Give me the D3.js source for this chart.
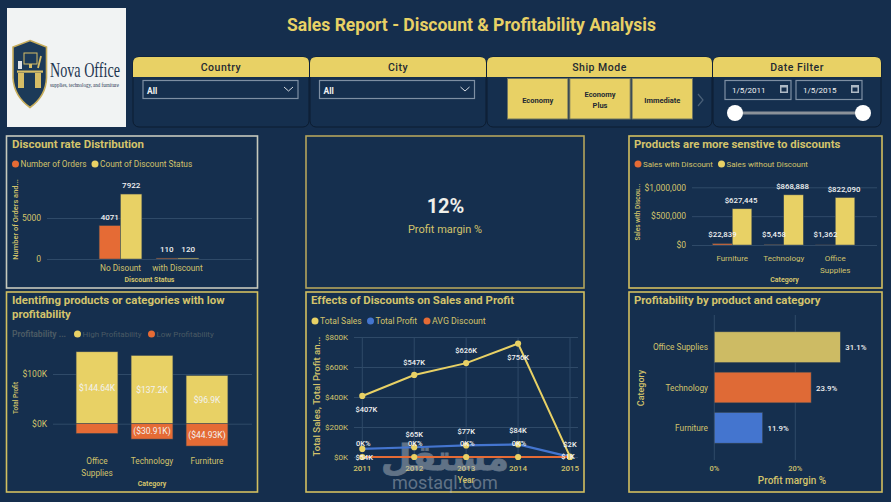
<!DOCTYPE html>
<html>
<head>
<meta charset="utf-8">
<script src="https://cdnjs.cloudflare.com/ajax/libs/d3/7.8.5/d3.min.js"></script>
<style>
html, body { margin: 0; padding: 0; background: #152e4d; overflow: hidden; }
svg { display: block; }
text { font-family: Roboto, "Noto Sans", sans-serif; }
</style>
</head>
<body>
<svg id="chart" width="891" height="502"></svg>
<script>
// chart values
var discountStatus = ["No Disount", "with Discount"];
var ordersCount = [4071, 110];
var discountCount = [7922, 120];

var profitCats = ["Office Supplies", "Technology", "Furniture"];
var highProfit = [144.64, 137.2, 96.9];
var lowProfit = [-19.5, -30.91, -44.93];

var years = [2011, 2012, 2013, 2014, 2015];
var totalSales = [407, 547, 626, 756, 2];
var totalProfit = [54, 65, 77, 84, 1];
var avgDiscount = [0, 0, 0, 0, 0];
var discountLabels = ["0K%", "0K%", "0K%", "0K%"];

var sensCats = ["Furniture", "Technology", "Office Supplies"];
var salesWith = [22839, 5458, 1362];
var salesWithout = [627445, 868888, 822090];

var marginCats = ["Office Supplies", "Technology", "Furniture"];
var marginVals = [31.1, 23.9, 11.9];

var shipModes = ["Economy", "Economy Plus", "Immediate"];

var YELLOW = "#e8d165", ORANGE = "#e56b35", BLUE = "#4475cf";
var AXIS = "#d3c36b", GRID = "#2f4a68", WHITE = "#f2f2f2", BG = "#152e4d";

var svg = d3.select("#chart");
svg.append("rect").attr("width", 891).attr("height", 502).attr("fill", BG);

function label(g, x, y, txt, size, color, anchor, weight) {
  return g.append("text").attr("x", x).attr("y", y).text(txt)
    .attr("font-size", size).attr("fill", color)
    .attr("text-anchor", anchor || "start")
    .attr("font-weight", weight || 400);
}

function panel(x, y, w, h, stroke) {
  svg.append("rect").attr("x", x).attr("y", y).attr("width", w).attr("height", h)
    .attr("fill", "#152f4e").attr("stroke", stroke || "#d2bf60").attr("stroke-width", 1.6);
}

function legend(items, y) {
  items.forEach(function(d) {
    svg.append("circle").attr("cx", d[0]).attr("cy", y).attr("r", 3.5).attr("fill", d[2]);
    label(svg, d[0] + 5, y + 3, d[1], d[3] || 8, d[4] || AXIS);
  });
}

// y axis with grid lines running across the plot
function yAxis(scale, ticks, fmt, x, x2, size) {
  var g = svg.append("g").attr("transform", "translate(" + x + ",0)")
    .call(d3.axisLeft(scale).tickValues(ticks).tickFormat(fmt).tickSize(-(x2 - x)).tickPadding(6));
  g.select(".domain").remove();
  g.selectAll("line").attr("stroke", GRID).attr("stroke-width", 1);
  g.selectAll("text").attr("fill", AXIS).attr("font-size", size || 8.5);
  return g;
}

function vTitle(x, y, txt, size, weight) {
  svg.append("text").attr("transform", "translate(" + x + "," + y + ") rotate(-90)")
    .attr("text-anchor", "middle").attr("font-size", size).attr("fill", AXIS)
    .attr("font-weight", weight || 400).text(txt);
}

// category tick labels, wrapped on the space when asked
function catLabels(names, xOf, y, wrap, size) {
  names.forEach(function(n) {
    var parts = wrap && n === wrap ? n.split(" ") : [n];
    parts.forEach(function(p, i) {
      label(svg, xOf(n), y + i * 12, p, size || 8, AXIS, "middle");
    });
  });
}

function barRects(data, color) {
  svg.append("g").selectAll("rect").data(data).enter().append("rect")
    .attr("x", function(d) { return d.x; })
    .attr("y", function(d) { return d.y; })
    .attr("width", function(d) { return d.w; })
    .attr("height", function(d) { return d.h; })
    .attr("fill", color).attr("stroke", "#3d4a55").attr("stroke-width", 0.5);
}

// ---- header
label(svg, 471.5, 31, "Sales Report - Discount & Profitability Analysis", 17.5, YELLOW, "middle", 700);

// logo
var logo = svg.append("g");
logo.append("rect").attr("x", 7).attr("y", 8).attr("width", 119).attr("height", 119).attr("fill", "#f1f3f3");
logo.append("path").attr("d", "M30 40.5 L46.5 47 L46.5 78 Q46 96 30 107.5 Q14 96 13 78 L13 47 Z")
  .attr("fill", "#1c3a58").attr("stroke", "#c7ad5b").attr("stroke-width", 1.6);
logo.append("rect").attr("x", 24).attr("y", 53).attr("width", 13).attr("height", 11).attr("fill", "#1c3a58").attr("stroke", "#d6bd66").attr("stroke-width", 1);
logo.append("rect").attr("x", 29).attr("y", 64).attr("width", 3).attr("height", 4).attr("fill", "#d6bd66");
logo.append("rect").attr("x", 17).attr("y", 70.5).attr("width", 26).attr("height", 2.2).attr("fill", "#d6bd66");
logo.append("rect").attr("x", 18).attr("y", 73).attr("width", 6).attr("height", 15).attr("fill", "#d6bd66");
logo.append("rect").attr("x", 35).attr("y", 73).attr("width", 6).attr("height", 15).attr("fill", "#d6bd66");
logo.append("rect").attr("x", 18).attr("y", 61).attr("width", 4).attr("height", 8).attr("fill", "#dfe3e6");
logo.append("path").attr("d", "M38 68 L41 56").attr("stroke", "#d6bd66").attr("stroke-width", 1.8);
logo.append("text").attr("x", 50).attr("y", 77).attr("font-size", 21).attr("fill", "#1d3550")
  .style("font-family", "'Liberation Serif', serif").attr("textLength", 70).attr("lengthAdjust", "spacingAndGlyphs").text("Nova Office");
logo.append("text").attr("x", 50).attr("y", 87).attr("font-size", 6.5).attr("fill", "#1d3550")
  .style("font-family", "'Liberation Serif', serif").attr("textLength", 69).attr("lengthAdjust", "spacingAndGlyphs").text("supplies, technology, and furniture");

// slicers
function slicer(x, w, title) {
  svg.append("rect").attr("x", x).attr("y", 57).attr("width", w).attr("height", 70).attr("rx", 6)
    .attr("fill", "#152f4e").attr("stroke", "#0c1c30").attr("stroke-width", 1);
  svg.append("path").attr("d", "M" + x + " 77 V63 Q" + x + " 57 " + (x + 6) + " 57 H" + (x + w - 6) + " Q" + (x + w) + " 57 " + (x + w) + " 63 V77 Z")
    .attr("fill", YELLOW);
  label(svg, x + w / 2, 71, title, 10.5, "#1f2a33", "middle", 500).attr("letter-spacing", 0.5);
}
function dropdown(x, w) {
  svg.append("rect").attr("x", x).attr("y", 80.5).attr("width", w).attr("height", 18)
    .attr("fill", "none").attr("stroke", "#7e8fa3").attr("stroke-width", 1.2);
  label(svg, x + 4, 93.5, "All", 8.5, WHITE, "start", 700);
  svg.append("path").attr("d", "M" + (x + w - 14) + " 87 l4.5 4 l4.5 -4").attr("fill", "none").attr("stroke", "#d8dde3").attr("stroke-width", 1);
}
slicer(133, 176, "Country");
dropdown(143, 155);
slicer(310, 176, "City");
dropdown(319.5, 155);
slicer(487, 225, "Ship Mode");
slicer(713, 168, "Date Filter");

var shipX = d3.scaleBand().domain(shipModes).range([507.5, 692.5]).paddingInner(0.03);
shipModes.forEach(function(m) {
  svg.append("rect").attr("x", shipX(m)).attr("y", 78.5).attr("width", shipX.bandwidth()).attr("height", 40.5)
    .attr("fill", YELLOW).attr("stroke", "#6f7460").attr("stroke-width", 1);
  var parts = m.split(" ");
  parts.forEach(function(p, i) {
    label(svg, shipX(m) + shipX.bandwidth() / 2, 102.5 - (parts.length - 1) * 5.5 + i * 11, p, 7.5, "#1f2a33", "middle", 700);
  });
});
svg.append("path").attr("d", "M698 94 l5 6 l-5 6").attr("fill", "none").attr("stroke", "#4a6078").attr("stroke-width", 1.2);

["1/5/2011", "1/5/2015"].forEach(function(t, i) {
  var x = 725 + i * 71;
  svg.append("rect").attr("x", x).attr("y", 80.5).attr("width", 66).attr("height", 19)
    .attr("fill", "none").attr("stroke", "#7e8fa3").attr("stroke-width", 1.2);
  label(svg, x + 7, 93, t, 8, WHITE);
  svg.append("rect").attr("x", x + 55).attr("y", 85).attr("width", 8).attr("height", 8).attr("fill", "#aeb9c5");
  svg.append("rect").attr("x", x + 56.5).attr("y", 87.5).attr("width", 5).attr("height", 4).attr("fill", BG);
});
svg.append("line").attr("x1", 735).attr("x2", 863).attr("y1", 113).attr("y2", 113).attr("stroke", "#8b9299").attr("stroke-width", 3);
[735, 863].forEach(function(x) {
  svg.append("circle").attr("cx", x).attr("cy", 113).attr("r", 8).attr("fill", "#ffffff");
});

// panels
panel(6.5, 136, 251, 152, "#c6c9bd");
panel(306, 136, 278, 152, "#b3a45c");
panel(629, 136, 253, 152);
panel(6.5, 292, 251, 200);
panel(306, 292, 278, 200);
panel(629, 292, 253, 200);

// ---- Discount rate Distribution
label(svg, 12, 148, "Discount rate Distribution", 11.5, AXIS, "start", 700);
legend([[15.5, "Number of Orders", ORANGE, 8.3], [95, "Count of Discount Status", YELLOW, 8.3]], 164);
var y1 = d3.scaleLinear().domain([0, 5000]).range([259, 218]);
yAxis(y1, [0, 5000], String, 47, 252);
var x1 = d3.scaleBand().domain(discountStatus).range([92, 206]).paddingInner(0.25).paddingOuter(0.125);
var bw1 = x1.bandwidth() / 2;
barRects(discountStatus.map(function(c, i) {
  return { x: x1(c), y: y1(ordersCount[i]), w: bw1, h: y1(0) - y1(ordersCount[i]) };
}), ORANGE);
barRects(discountStatus.map(function(c, i) {
  return { x: x1(c) + bw1, y: y1(discountCount[i]), w: bw1, h: y1(0) - y1(discountCount[i]) };
}), YELLOW);
discountStatus.forEach(function(c, i) {
  label(svg, x1(c) + bw1 / 2, y1(ordersCount[i]) - 6, ordersCount[i], 8, WHITE, "middle", 500);
  label(svg, x1(c) + bw1 * 1.5, y1(discountCount[i]) - 6, discountCount[i], 8, WHITE, "middle", 500);
});
catLabels(discountStatus, function(n) { return x1(n) + x1.bandwidth() / 2; }, 271, null, 8.3);
label(svg, 149.5, 282, "Discount Status", 7, AXIS, "middle", 700);
vTitle(18, 219.5, "Number of Orders and...", 7.5, 500);

// ---- Profit margin card
label(svg, 445.5, 213, "12%", 20, "#f0f0ea", "middle", 700);
label(svg, 445, 233, "Profit margin %", 11, AXIS, "middle", 400);

// ---- Low profitability
label(svg, 12, 304, "Identifing products or categories with low", 11.4, AXIS, "start", 700);
label(svg, 12, 318, "profitability", 11.4, AXIS, "start", 700);
label(svg, 12, 337, "Profitability ...", 8.5, "#4a5a64", "start", 700);
legend([[77.5, "High Profitability", YELLOW, 8, "#4a5a64"], [151.5, "Low Profitability", ORANGE, 8, "#4a5a64"]], 334);
var y4 = d3.scaleLinear().domain([0, 100]).range([423.7, 374]);
yAxis(y4, [0, 100], function(d) { return "$" + d + "K"; }, 53, 252);
var x4 = d3.scaleBand().domain(profitCats).range([69.5, 234.5]).paddingInner(0.24).paddingOuter(0.12);
barRects(profitCats.map(function(c, i) {
  return { x: x4(c), y: y4(highProfit[i]), w: x4.bandwidth(), h: y4(0) - y4(highProfit[i]) };
}), YELLOW);
barRects(profitCats.map(function(c, i) {
  return { x: x4(c), y: y4(0), w: x4.bandwidth(), h: y4(lowProfit[i]) - y4(0) };
}), ORANGE);
profitCats.forEach(function(c, i) {
  var cx = x4(c) + x4.bandwidth() / 2;
  label(svg, cx, y4(highProfit[i] / 2) + 3, "$" + highProfit[i] + "K", 8.5, WHITE, "middle", 400);
  // the smallest negative bar has no room for its label
  if (lowProfit[i] < -25) label(svg, cx, y4(lowProfit[i] / 2) + 3, "($" + (-lowProfit[i]) + "K)", 8.5, WHITE, "middle", 400);
});
catLabels(profitCats, function(n) { return x4(n) + x4.bandwidth() / 2; }, 464, "Office Supplies", 8.3);
label(svg, 152, 486, "Category", 7, AXIS, "middle", 700);
vTitle(18, 398, "Total Profit", 6.5, 500);

// ---- Effects of Discounts
label(svg, 311, 304, "Effects of Discounts on Sales and Profit", 11.4, AXIS, "start", 700);
legend([[315, "Total Sales", YELLOW, 8.5], [370.5, "Total Profit", BLUE, 8.5], [427, "AVG Discount", ORANGE, 8.8]], 321);
var y5 = d3.scaleLinear().domain([0, 800]).range([457, 337]);
var x5 = d3.scalePoint().domain(years).range([362.3, 570]);
yAxis(y5, [0, 200, 400, 600, 800], function(d) { return "$" + d + "K"; }, 354, 578, 8);
svg.append("g").selectAll("line").data(years).enter().append("line")
  .attr("x1", function(d) { return x5(d); }).attr("x2", function(d) { return x5(d); })
  .attr("y1", 337).attr("y2", 457).attr("stroke", GRID);
years.forEach(function(d) { label(svg, x5(d), 471, d, 8, AXIS, "middle", 500); });

// watermark sits under the lines
var mark = svg.append("g").attr("opacity", 0.45);
mark.append("text").attr("x", 445).attr("y", 470).attr("text-anchor", "middle").attr("font-size", 35).attr("font-weight", 700)
  .attr("fill", "#bcc3cb").attr("stroke", "#bcc3cb").attr("stroke-width", 0.8)
  .style("font-family", "'DejaVu Sans', sans-serif").text("مستقل");
mark.append("text").attr("x", 445).attr("y", 489).attr("text-anchor", "middle").attr("font-size", 18)
  .attr("fill", "#bcc3cb").text("mostaql.com");

label(svg, 466, 483, "Year", 8.5, AXIS, "middle", 500);
vTitle(320, 396.5, "Total Sales, Total Profit an...", 9.6, 500);

function series(vals, color, width) {
  var line = d3.line().x(function(d, i) { return x5(years[i]); }).y(function(d) { return y5(d); });
  svg.append("path").datum(vals).attr("d", line).attr("fill", "none").attr("stroke", color).attr("stroke-width", width);
}
function dots(vals) {
  svg.append("g").selectAll("circle").data(vals).enter().append("circle")
    .attr("cx", function(d, i) { return x5(years[i]); })
    .attr("cy", function(d) { return y5(d); })
    .attr("r", 3.1).attr("fill", YELLOW);
}
series(totalProfit, BLUE, 2.2);
series(avgDiscount, ORANGE, 2.2);
series(totalSales, YELLOW, 2);
dots(totalSales);
dots(totalProfit.slice(0, 4));
dots(avgDiscount);

var salesDy = [16, -10, -10, 16, -10];
var salesDx = [4, 0, 0, 0, 0];
totalSales.forEach(function(v, i) {
  label(svg, x5(years[i]) + salesDx[i], y5(v) + salesDy[i], "$" + v + "K", 7.5, WHITE, "middle", 500);
});
var profitDy = [11, -10.5, -11, -11.4, 2.5];
var profitDx = [2, 0, 0, 0, -2];
totalProfit.forEach(function(v, i) {
  label(svg, x5(years[i]) + profitDx[i], y5(v) + profitDy[i], "$" + v + "K", 7.5, WHITE, "middle", 500);
});
discountLabels.forEach(function(t, i) {
  label(svg, x5(years[i]) + 1, 446, t, 7.5, WHITE, "middle", 500);
});

// ---- Sensitivity
label(svg, 634, 148, "Products are more senstive to discounts", 11.4, AXIS, "start", 700);
legend([[638, "Sales with Discount", ORANGE], [721.5, "Sales without Discount", YELLOW]], 164);
var y3 = d3.scaleLinear().domain([0, 1000000]).range([245, 187.3]);
yAxis(y3, [0, 500000, 1000000], d3.format("$,"), 692, 877);
var x3 = d3.scaleBand().domain(sensCats).range([706.5, 861]).paddingInner(0.24).paddingOuter(0.12);
var bw3 = x3.bandwidth() / 2;
barRects(sensCats.map(function(c, i) {
  return { x: x3(c), y: y3(salesWith[i]), w: bw3, h: y3(0) - y3(salesWith[i]) };
}), ORANGE);
barRects(sensCats.map(function(c, i) {
  return { x: x3(c) + bw3, y: y3(salesWithout[i]), w: bw3, h: y3(0) - y3(salesWithout[i]) };
}), YELLOW);
sensCats.forEach(function(c, i) {
  label(svg, x3(c) + bw3 / 2, 237, d3.format("$,")(salesWith[i]), 7.8, WHITE, "middle", 500);
  label(svg, x3(c) + bw3 * 1.5 - 1, y3(salesWithout[i]) - 6, d3.format("$,")(salesWithout[i]), 7.8, WHITE, "middle", 500);
});
catLabels(sensCats, function(n) { return x3(n) + x3.bandwidth() / 2; }, 261, "Office Supplies", 8);
label(svg, 784.5, 282, "Category", 7, AXIS, "middle", 700);
vTitle(640, 212, "Sales with Discou...", 6.5, 500);

// ---- Profitability by category
label(svg, 634, 304, "Profitability by product and category", 11.4, AXIS, "start", 700);
var x6 = d3.scaleLinear().domain([0, 20]).range([714.3, 795.3]);
var y6 = d3.scaleBand().domain(marginCats).range([327, 448]).paddingInner(0.24).paddingOuter(0.12);
var marginColors = ["#cdbb64", "#df6a36", BLUE];
[0, 20].forEach(function(t) {
  svg.append("line").attr("x1", x6(t)).attr("x2", x6(t)).attr("y1", 315).attr("y2", 460).attr("stroke", GRID);
  label(svg, x6(t), 471, t + "%", 7.5, AXIS, "middle", 500);
});
svg.append("g").selectAll("rect").data(marginVals).enter().append("rect")
  .attr("x", x6(0))
  .attr("y", function(d, i) { return y6(marginCats[i]); })
  .attr("width", function(d) { return x6(d) - x6(0); })
  .attr("height", y6.bandwidth())
  .attr("fill", function(d, i) { return marginColors[i]; })
  .attr("stroke", "#3d4a55").attr("stroke-width", 0.5);
marginCats.forEach(function(c, i) {
  var cy = y6(c) + y6.bandwidth() / 2;
  label(svg, 708, cy + 3, c, 8.3, AXIS, "end", 400);
  label(svg, x6(marginVals[i]) + 5, cy + 3, marginVals[i].toFixed(1) + "%", 7.8, WHITE, "start", 500);
});
label(svg, 792, 484, "Profit margin %", 10, AXIS, "middle", 500);
vTitle(644, 388, "Category", 9, 500);
</script>
</body>
</html>
